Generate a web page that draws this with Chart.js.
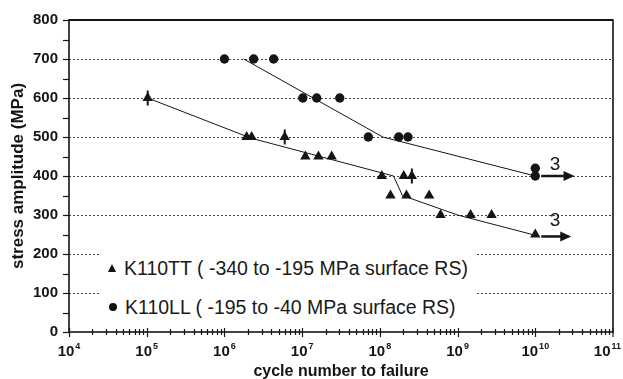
<!DOCTYPE html>
<html>
<head>
<meta charset="utf-8">
<script src="https://cdn.jsdelivr.net/npm/chart.js@4.4.1/dist/chart.umd.min.js"></script>
<style>
body { margin: 0; background: #fff; }
#wrap { position: relative; width: 623px; height: 379px; }
#legend { position: absolute; left: 101px; top: 240px; width: 374px; height: 86px; background: #fff;
  font-family: 'Liberation Sans', Arial, sans-serif; font-size: 19.5px; color: #1a1a1a; }
.row { position: absolute; left: 0; height: 22px; display: flex; align-items: center; white-space: nowrap; }
.tri { width: 0; height: 0; border-left: 4.5px solid transparent; border-right: 4.5px solid transparent;
  border-bottom: 8px solid #111; margin-left: 7px; margin-right: 8px; }
.dot { width: 8px; height: 8px; border-radius: 50%; background: #111; margin-left: 8px; margin-right: 8px; }
</style>
</head>
<body>
<div id="wrap">
  <canvas id="sn-chart"></canvas>
  <div id="legend"></div>
</div>
<script>
// axis ticks
const xTicks = [1e4, 1e5, 1e6, 1e7, 1e8, 1e9, 1e10, 1e11];
const yTicks = [0, 100, 200, 300, 400, 500, 600, 700, 800];

// K110TT (triangles)
const ttCycles = [1.03e5, 1.93e6, 2.24e6, 5.97e6, 1.1e7, 1.62e7, 2.4e7, 1.06e8, 2.03e8, 2.58e8,
                  1.37e8, 2.2e8, 4.31e8, 6.04e8, 1.47e9, 2.74e9, 1.0e10];
const ttStress = [600, 500, 500, 500, 450, 450, 450, 400, 400, 400,
                  350, 350, 350, 300, 300, 300, 250];
// triangles marked with a vertical bar
const ttBarCycles = [1.03e5, 5.97e6, 2.58e8];
const ttBarStress = [600, 500, 400];
// fitted line
const ttFitCycles = [1.03e5, 2.2e6, 1.5e8, 1.95e8, 1.0e9, 1.0e10];
const ttFitStress = [600, 497, 400, 350, 300, 248];

// K110LL (circles)
const llCycles = [1.0e6, 2.38e6, 4.3e6, 1.02e7, 1.54e7, 3.05e7, 7.1e7, 1.75e8, 2.3e8, 1.0e10, 1.0e10];
const llStress = [700, 700, 700, 600, 600, 600, 500, 500, 500, 420, 400];
const llFitCycles = [1.77e6, 1.09e8, 1.0e10];
const llFitStress = [700, 500, 400];

// run-outs (arrows) with count label
const runoutFrom = [1.0e10, 1.0e10];
const runoutTo = [3.2e10, 2.9e10];
const runoutStress = [400, 245];
const runoutCount = ['3', '3'];
const runoutLabelCycles = [1.8e10, 1.8e10];
const runoutLabelStress = [430, 285];

const seriesNames = ['K110TT ( -340 to -195 MPa surface RS)', 'K110LL ( -195 to -40 MPa surface RS)'];

const FONT = "'Liberation Sans', Arial, sans-serif";
const INK = '#151515';

function pts(xs, ys) {
    return xs.map((x, i) => ({ x: x, y: ys[i] }));
}

// 邊框、刻度、箭頭
const framePlugin = {
    id: 'frame',
    afterDraw(chart) {
        const { ctx, chartArea: a, scales: { x, y } } = chart;
        ctx.save();
        ctx.strokeStyle = INK;
        ctx.fillStyle = INK;

        function seg(x1, y1, x2, y2) {
            ctx.beginPath();
            ctx.moveTo(x1, y1);
            ctx.lineTo(x2, y2);
            ctx.stroke();
        }

        // y ticks every 50
        ctx.lineWidth = 1.2;
        for (let v = 0; v <= 800; v += 50) {
            const py = Math.round(y.getPixelForValue(v)) + 0.5;
            seg(a.left - 6, py, a.left, py);
        }
        // x ticks, decades and minor
        for (let e = 4; e <= 10; e++) {
            for (let m = 1; m <= 9; m++) {
                const px = Math.round(x.getPixelForValue(m * Math.pow(10, e))) + 0.5;
                if (m === 1) seg(px, a.bottom - 4, px, a.bottom + 5);
                else seg(px, a.bottom - 3, px, a.bottom + 3);
            }
        }
        seg(a.right, a.bottom - 4, a.right, a.bottom + 5);

        // x tick labels as 10 with a raised exponent
        const base = 'bold 15px ' + FONT;
        const small = 'bold 9px ' + FONT;
        ctx.textBaseline = 'middle';
        ctx.textAlign = 'left';
        x.ticks.forEach(t => {
            const exp = String(Math.round(Math.log10(t.value)));
            ctx.font = base;
            const w1 = ctx.measureText('10').width;
            ctx.font = small;
            const w2 = ctx.measureText(exp).width;
            const total = w1 + w2 + 1;
            let left = x.getPixelForValue(t.value) - total / 2;
            left = Math.min(left, chart.width - 2 - total);
            ctx.font = base;
            ctx.fillText('10', left, a.bottom + 20);
            ctx.font = small;
            ctx.fillText(exp, left + w1 + 1, a.bottom + 15);
        });

        // box
        ctx.lineWidth = 1.6;
        ctx.strokeRect(a.left, a.top, a.right - a.left, a.bottom - a.top);
        ctx.lineWidth = 2.2;
        seg(a.left, a.top, a.right, a.top);

        // run-out arrows
        ctx.font = '19px ' + FONT;
        ctx.textAlign = 'center';
        ctx.textBaseline = 'middle';
        runoutFrom.forEach((from, i) => {
            const x1 = x.getPixelForValue(from) + 6;
            const x2 = x.getPixelForValue(runoutTo[i]);
            const py = y.getPixelForValue(runoutStress[i]);
            ctx.lineWidth = 2.5;
            seg(x1, py, x2 - 8, py);
            ctx.beginPath();
            ctx.moveTo(x2, py);
            ctx.lineTo(x2 - 11, py - 5);
            ctx.lineTo(x2 - 11, py + 5);
            ctx.closePath();
            ctx.fill();
            ctx.fillText(runoutCount[i], x.getPixelForValue(runoutLabelCycles[i]), y.getPixelForValue(runoutLabelStress[i]));
        });
        ctx.restore();
    }
};

function initChart() {
    const ctx = document.getElementById('sn-chart').getContext('2d');
    new Chart(ctx, {
        type: 'scatter',
        data: {
            datasets: [
                {
                    label: seriesNames[0],
                    data: pts(ttCycles, ttStress),
                    pointStyle: 'triangle',
                    pointRadius: 6,
                    backgroundColor: INK,
                    borderColor: INK,
                    borderWidth: 0
                },
                {
                    label: 'bars',
                    data: pts(ttBarCycles, ttBarStress),
                    pointStyle: 'line',
                    rotation: 90,
                    pointRadius: 7.5,
                    borderColor: INK,
                    borderWidth: 2
                },
                {
                    label: seriesNames[1],
                    data: pts(llCycles, llStress),
                    pointStyle: 'circle',
                    pointRadius: 4.7,
                    backgroundColor: INK,
                    borderWidth: 0
                },
                {
                    label: 'TT fit',
                    data: pts(ttFitCycles, ttFitStress),
                    showLine: true,
                    pointRadius: 0,
                    borderColor: INK,
                    borderWidth: 1
                },
                {
                    label: 'LL fit',
                    data: pts(llFitCycles, llFitStress),
                    showLine: true,
                    pointRadius: 0,
                    borderColor: INK,
                    borderWidth: 1
                }
            ]
        },
        options: {
            responsive: true,
            maintainAspectRatio: false,
            animation: false,
            layout: { padding: { top: 14, right: 10, left: 0, bottom: 0 } },
            plugins: {
                legend: { display: false },
                tooltip: { enabled: false }
            },
            scales: {
                x: {
                    type: 'logarithmic',
                    min: 1e4,
                    max: 1e11,
                    afterBuildTicks: s => { s.ticks = xTicks.map(v => ({ value: v })); },
                    afterFit: s => { s.height = 47; },
                    grid: { display: false, drawTicks: false },
                    border: { display: false },
                    ticks: { display: false, autoSkip: false },
                    title: {
                        display: true,
                        text: 'cycle number to failure',
                        color: INK,
                        padding: { top: 0, bottom: 0 },
                        font: { family: FONT, size: 16, weight: 'bold', lineHeight: 0.9 }
                    }
                },
                y: {
                    min: 0,
                    max: 800,
                    afterBuildTicks: s => { s.ticks = yTicks.map(v => ({ value: v })); },
                    afterFit: s => { s.width = 69; },
                    grid: {
                        drawTicks: false,
                        lineWidth: 1,
                        color: c => (c.tick && (c.tick.value === 0 || c.tick.value === 800)) ? 'rgba(0,0,0,0)' : '#444'
                    },
                    border: { display: false, dash: [2, 2] },
                    ticks: {
                        padding: 11,
                        color: INK,
                        font: { family: FONT, size: 15, weight: 'bold' }
                    },
                    title: {
                        display: true,
                        text: 'stress amplitude (MPa)',
                        color: INK,
                        padding: { top: 8, bottom: 0 },
                        font: { family: FONT, size: 17, weight: 'bold' }
                    }
                }
            }
        },
        plugins: [framePlugin]
    });
}

// 圖例
function buildLegend() {
    const box = document.getElementById('legend');
    const marks = ['tri', 'dot'];
    const tops = [17, 56];
    seriesNames.forEach((name, i) => {
        const row = document.createElement('div');
        row.className = 'row';
        row.style.top = tops[i] + 'px';
        row.innerHTML = `<span class="${marks[i]}"></span><span>${name}</span>`;
        box.appendChild(row);
    });
}

document.addEventListener('DOMContentLoaded', () => {
    initChart();
    buildLegend();
});
</script>
</body>
</html>
